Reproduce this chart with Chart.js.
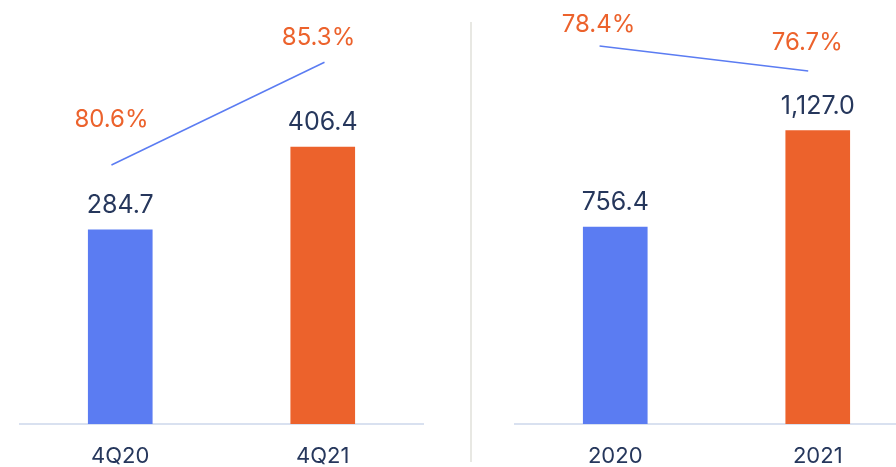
<!DOCTYPE html>
<html>
<head>
<meta charset="utf-8">
<script src="https://cdn.jsdelivr.net/npm/chart.js@4"></script>
<style>
  html, body { margin: 0; padding: 0; background: #fff; }
  body { width: 896px; height: 467px; position: relative; overflow: hidden; }
  canvas { position: absolute; top: 0; }
  #quarterChart { left: 19px; }
  #yearChart { left: 514px; }
  .divider { position: absolute; left: 470px; top: 22px; width: 2px; height: 440px; background: #e8e8e3; }
</style>
</head>
<body>
<canvas id="quarterChart" width="405" height="467"></canvas>
<div class="divider"></div>
<canvas id="yearChart" width="405" height="467"></canvas>
<script>
// Left panel: quarters
const quarterLabels = ["4Q20", "4Q21"];
const quarterValues = [284.7, 406.4];
const quarterMargins = [80.6, 85.3];

// Right panel: full years
const yearLabels = ["2020", "2021"];
const yearValues = [756.4, 1127.0];
const yearMargins = [78.4, 76.7];

const BLUE = "#5b7cf2";
const ORANGE = "#ec622c";
const NAVY = "#26375c";
const FONT = "Inter, 'Noto Sans', sans-serif";

const fmtValue = v => v.toLocaleString("en-US", { minimumFractionDigits: 1, maximumFractionDigits: 1 });

// draws value labels over bars and % labels over line points
const labelPlugin = {
  id: "panelLabels",
  afterDatasetsDraw(chart, args, opts) {
    const ctx = chart.ctx;
    ctx.save();
    ctx.textAlign = "center";
    ctx.textBaseline = "alphabetic";

    const bars = chart.getDatasetMeta(0);
    ctx.font = "25px " + FONT;
    ctx.fillStyle = NAVY;
    bars.data.forEach((bar, i) => {
      ctx.fillText(fmtValue(chart.data.datasets[0].data[i]), bar.x, bar.y - 17);
    });

    const line = chart.getDatasetMeta(1);
    ctx.font = "24px " + FONT;
    ctx.fillStyle = ORANGE;
    line.data.forEach((pt, i) => {
      const [dx, dy] = opts.shift[i];
      ctx.fillText(chart.data.datasets[1].data[i].y.toFixed(1) + "%", pt.x + dx, pt.y + dy);
    });
    ctx.restore();
  }
};

function buildPanel(id, labels, values, margins, cfg) {
  const ctx = document.getElementById(id).getContext("2d");
  return new Chart(ctx, {
    type: "bar",
    data: {
      labels: labels,
      datasets: [
        {
          data: values,
          backgroundColor: [BLUE, ORANGE],
          barThickness: 64,
          grouped: false,
          order: 2
        },
        {
          type: "line",
          data: margins.map((v, i) => ({ x: i, y: v })),
          xAxisID: "xl",
          yAxisID: "y2",
          borderColor: BLUE,
          borderWidth: 1.5,
          pointRadius: 0,
          tension: 0,
          order: 1
        }
      ]
    },
    options: {
      responsive: false,
      animation: false,
      layout: { padding: 0 },
      plugins: {
        legend: { display: false },
        tooltip: { enabled: false },
        panelLabels: { shift: cfg.shift }
      },
      scales: {
        x: {
          grid: { display: false, drawTicks: false },
          border: { display: true, color: "#d9e1f0", width: 2 },
          ticks: {
            color: NAVY,
            padding: 19,
            font: { family: FONT, size: 22 }
          },
          afterFit: s => { s.height = 43; }
        },
        xl: {
          type: "linear",
          display: false,
          offset: false,
          min: cfg.xMin,
          max: cfg.xMax
        },
        y: {
          display: false,
          min: 0,
          max: cfg.barMax
        },
        y2: {
          display: false,
          position: "right",
          min: cfg.pctMin,
          max: cfg.pctMax
        }
      }
    },
    plugins: [labelPlugin]
  });
}

buildPanel("quarterChart", quarterLabels, quarterValues, quarterMargins, {
  barMax: 622, pctMin: 68.75, pctMax: 88.15,
  xMin: -0.434, xMax: 1.467,
  shift: [[0, -38], [-6, -17]]
});

buildPanel("yearChart", yearLabels, yearValues, yearMargins, {
  barMax: 1629, pctMin: 52.7, pctMax: 81.53,
  xMin: -0.41, xMax: 1.531,
  shift: [[-1, -14], [-1, -21]]
});
</script>
</body>
</html>
